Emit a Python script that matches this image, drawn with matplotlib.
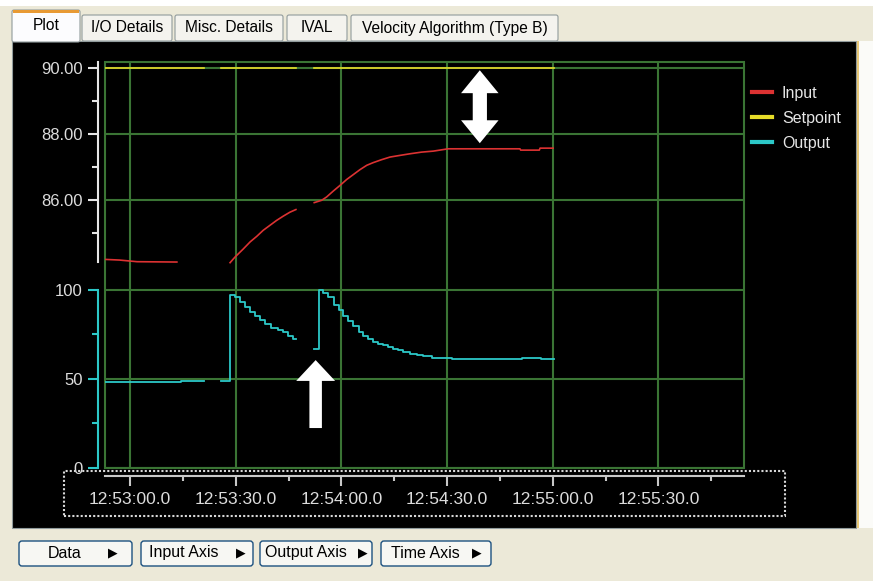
import numpy as np
import matplotlib
matplotlib.use("Agg")
import matplotlib.pyplot as plt
from matplotlib.patches import Rectangle, FancyBboxPatch
from matplotlib.transforms import IdentityTransform
from matplotlib.ticker import FixedLocator, FuncFormatter, MultipleLocator
from matplotlib.lines import Line2D

W, H = 873, 581
nan = np.nan

# ── data: seconds after 12:53:00 ─────────────────────────────────────────────
BASE_SEC = 12 * 3600 + 53 * 60

input_t = [-7.1, -3.0, 2.0, 13.3, nan,
           28.4, 29.8, 32.1, 34.1, 36.0, 37.8, 39.7, 41.6, 43.5, 45.4, 47.1, nan,
           52.3, 54.4, 55.8, 57.7, 59.6, 61.5, 63.4, 65.3, 67.2, 69.0, 71.4,
           73.8, 76.6, 79.5, 82.8, 86.1, 90.3, 110.7, 110.9, 116.2, 116.4, 120.1]
input_v = [84.21, 84.19, 84.14, 84.13, nan,
           84.11, 84.28, 84.52, 84.74, 84.91, 85.09, 85.24, 85.39, 85.52, 85.64, 85.72, nan,
           85.93, 86.00, 86.10, 86.28, 86.45, 86.63, 86.78, 86.93, 87.06, 87.14, 87.23,
           87.31, 87.36, 87.41, 87.46, 87.49, 87.56, 87.56, 87.52, 87.52, 87.58, 87.58]

setpoint_t = [-7.1, 21.0, nan, 25.7, 47.0, nan, 52.2, 120.3]
setpoint_v = [90.0, 90.0, nan, 90.0, 90.0, nan, 90.0, 90.0]

output_t = [-7.1, 14.5, 21.0, nan,
            25.7, 28.4, 29.8, 31.2, 32.6, 34.1, 35.5, 36.9, 38.3, 39.9, 42.0,
            43.3, 44.8, 46.3, 47.0, nan,
            52.3, 53.6, 54.8, 56.3, 58.0, 59.4, 60.5, 61.9, 63.4, 65.0, 66.2,
            67.6, 69.0, 70.5, 71.9, 73.3, 74.7, 76.2, 77.6, 79.5, 81.4, 83.3,
            85.6, 91.5, 111.2, 116.6, 120.3]
output_v = [48.2, 49.0, 49.0, nan,
            49.0, 97.2, 95.7, 92.9, 90.5, 87.7, 85.1, 82.7, 80.8, 78.4, 77.1,
            76.1, 73.9, 72.4, 72.4, nan,
            66.9, 99.8, 97.9, 95.7, 91.6, 88.3, 85.1, 82.3, 79.5, 76.1, 73.9,
            72.4, 70.9, 69.6, 68.7, 67.8, 66.9, 65.9, 65.0, 64.1, 63.5, 62.7,
            61.8, 60.9, 61.8, 60.9, 60.9]

time_range = (-7.1, 174.3)
input_range = (77.89, 90.19)
input_axis_span = (84.12, 90.19)
input_major = [86, 88, 90]
input_minor = [85, 87, 89]
output_range = (0, 227.6)
output_axis_span = (0, 100)
output_major = [0, 50, 100]
output_minor = [25, 75]

# annotation arrows (time, value)
double_arrow_t, double_arrow_lo, double_arrow_hi = 99.3, 87.73, 89.94
up_arrow_t, up_arrow_lo, up_arrow_hi = 52.7, 22.4, 60.5

series_names = ["Input", "Setpoint", "Output"]
tab_names = ["Plot", "I/O Details", "Misc. Details", "IVAL", "Velocity Algorithm (Type B)"]
button_names = ["Data", "Input Axis", "Output Axis", "Time Axis"]

# ── style ────────────────────────────────────────────────────────────────────
RED, YELLOW, CYAN = "#dc3232", "#e6dc28", "#2cc8c8"
GRID = "#3a7434"
AXW = "#e6e6e6"
BEIGE = "#ece9d8"
UI_FONT = ["Liberation Sans", "DejaVu Sans"]
PT = 0.72  # points per pixel at dpi 100

fig = plt.figure(figsize=(W / 100, H / 100), dpi=100, facecolor=BEIGE)
ID = IdentityTransform()


def box(x0, y0, x1, y1, **kw):
    kw.setdefault("zorder", -1)
    p = Rectangle((x0, H - y1), x1 - x0, y1 - y0, transform=ID, **kw)
    fig.patches.append(p)
    return p


def rbox(x0, y0, x1, y1, r=3, **kw):
    kw.setdefault("zorder", -1)
    p = FancyBboxPatch((x0, H - y1), x1 - x0, y1 - y0,
                       boxstyle=f"round,pad=0,rounding_size={r}", transform=ID, **kw)
    fig.patches.append(p)
    return p


def ftext(x, y, s, **kw):
    kw.setdefault("family", UI_FONT)
    kw.setdefault("ha", "center")
    kw.setdefault("va", "center")
    fig.text(x / W, 1 - y / H, s, **kw)


# window chrome
box(0, 0, W, 6, color="white", lw=0)
box(12, 41, 856, 528, facecolor="black", edgecolor="#919b9c", lw=0.8)
box(857, 41, 859, 528, color="#e8c878", lw=0)
box(859, 41, W, 528, color="#fbfbf8", lw=0)

# tabs
tab_x = [(12, 80), (82, 172), (175, 283), (287, 347), (351, 558)]
for i, (name, (x0, x1)) in enumerate(zip(tab_names, tab_x)):
    if i == 0:
        rbox(x0, 10, x1, 42, r=2, facecolor="#fcfcfe", edgecolor="#919b9c", lw=0.8)
        box(x0 + 1, 10, x1 - 1, 13, color="#e89a34", lw=0)
        ftext((x0 + x1) / 2, 25, name, fontsize=11.2, color="black")
    else:
        rbox(x0, 15, x1, 41, r=2, facecolor="#f4f3ee", edgecolor="#919b9c", lw=0.8)
        ftext((x0 + x1) / 2, 28, name, fontsize=11.2, color="black")

# buttons
btn_x = [(19, 132), (141, 253), (260, 372), (381, 491)]
btn_text_x = [65, 184, 306, 425]
btn_arrow_x = [113, 241, 363, 477]
for name, (x0, x1), tx, axx in zip(button_names, btn_x, btn_text_x, btn_arrow_x):
    rbox(x0, 541, x1, 566, r=3, facecolor="#f7f7f3", edgecolor="#1c5180", lw=1.0)
    ftext(tx, 553, name, fontsize=11.5, color="black")
    ftext(axx, 553, "\u25B6", fontsize=9, color="black", family=["DejaVu Sans"])

# ── plot area ────────────────────────────────────────────────────────────────
ax = fig.add_axes([105 / W, 1 - 468 / H, 639 / W, 406 / H])
ax.set_facecolor("black")
ax.set_xlim(*time_range)
ax.set_ylim(*input_range)

ax2 = ax.twinx()
ax2.set_ylim(*output_range)
ax2.patch.set_visible(False)

# frame
ax.add_patch(Rectangle((0, 0), 1, 1, transform=ax.transAxes, fill=False,
                       edgecolor=GRID, lw=1.5, clip_on=False, zorder=1.5))

for s in ["top", "right"]:
    ax.spines[s].set_visible(False)
for s in ["top", "right", "bottom"]:
    ax2.spines[s].set_visible(False)

ax.spines["left"].set_position(("outward", 7 * PT))
ax.spines["left"].set_bounds(*input_axis_span)
ax.spines["left"].set_color(AXW)
ax.spines["left"].set_linewidth(1.5)
ax.spines["bottom"].set_position(("outward", 7.7 * PT))
ax.spines["bottom"].set_color("#c8c8c8")
ax.spines["bottom"].set_linewidth(1.5)

ax2.spines["left"].set_visible(True)
ax2.spines["left"].set_position(("outward", 7 * PT))
ax2.spines["left"].set_bounds(*output_axis_span)
ax2.spines["left"].set_color(CYAN)
ax2.spines["left"].set_linewidth(1.5)
ax2.yaxis.set_ticks_position("left")
ax2.yaxis.set_label_position("left")


def fmt_time(s, pos):
    total = BASE_SEC + s
    h = int(total // 3600)
    m = int((total % 3600) // 60)
    sec = total - h * 3600 - m * 60
    return f"{h}:{m:02d}:{sec:04.1f}"


ax.xaxis.set_major_locator(MultipleLocator(30))
ax.xaxis.set_minor_locator(MultipleLocator(15))
ax.xaxis.set_major_formatter(FuncFormatter(fmt_time))
ax.tick_params(axis="x", which="major", length=10 * PT, width=1.5, color="#c8c8c8",
               labelcolor="#dcdcdc", labelsize=12.5, pad=6 * PT)
ax.tick_params(axis="x", which="minor", length=5 * PT, width=1.5, color="#c8c8c8")

ax.yaxis.set_major_locator(FixedLocator(input_major))
ax.yaxis.set_minor_locator(FixedLocator(input_minor))
ax.yaxis.set_major_formatter(FuncFormatter(lambda v, p: f"{v:.2f}"))
ax.tick_params(axis="y", which="major", length=10 * PT, width=1.5, color=AXW,
               labelcolor="#dcdcdc", labelsize=12, pad=5 * PT)
ax.tick_params(axis="y", which="minor", length=6 * PT, width=1.5, color=AXW)

ax2.yaxis.set_major_locator(FixedLocator(output_major))
ax2.yaxis.set_minor_locator(FixedLocator(output_minor))
ax2.tick_params(axis="y", which="major", length=10 * PT, width=1.5, color=CYAN,
                labelcolor="#dcdcdc", labelsize=12, pad=5 * PT, left=True, right=False,
                labelleft=True, labelright=False)
ax2.tick_params(axis="y", which="minor", length=6 * PT, width=1.5, color=CYAN,
                left=True, right=False)
for lab in ax.get_xticklabels() + ax.get_yticklabels() + ax2.get_yticklabels():
    lab.set_family(UI_FONT)

ax.grid(True, which="major", color=GRID, lw=1.5)
ax2.grid(True, axis="y", which="major", color=GRID, lw=1.5)
ax.set_axisbelow(True)
ax2.set_axisbelow(True)

# series
ax.plot(setpoint_t, setpoint_v, color=YELLOW, lw=1.2, zorder=3)
ax.plot(input_t, input_v, color=RED, lw=1.2, zorder=3)
ax2.plot(output_t, output_v, color=CYAN, lw=1.3, drawstyle="steps-post", zorder=3)

# annotation arrows: the two halves overlap in the middle so no seam shows
arrow_kw = dict(fc="white", ec="none", shrinkA=0, shrinkB=0, mutation_scale=10)
span = double_arrow_hi - double_arrow_lo
for end, start in ((double_arrow_hi, double_arrow_lo + 0.3 * span),
                   (double_arrow_lo, double_arrow_hi - 0.3 * span)):
    ax.annotate("", xy=(double_arrow_t, end), xytext=(double_arrow_t, start),
                arrowprops=dict(arrowstyle="simple,head_length=1.65,head_width=2.7,tail_width=1.0",
                                **arrow_kw), zorder=5)
ax2.annotate("", xy=(up_arrow_t, up_arrow_hi), xytext=(up_arrow_t, up_arrow_lo),
             arrowprops=dict(arrowstyle="simple,head_length=1.5,head_width=2.8,tail_width=0.9",
                             **arrow_kw), zorder=5)

# legend
handles = [Line2D([], [], color=c, lw=3) for c in (RED, YELLOW, CYAN)]
leg = fig.legend(handles, series_names, loc="upper left",
                 bbox_to_anchor=(752 / W, 1 - 86 / H), frameon=False,
                 borderpad=0, borderaxespad=0, handlelength=1.25,
                 handletextpad=0.62, labelspacing=0.62,
                 prop={"family": UI_FONT, "size": 11.5})
for t in leg.get_texts():
    t.set_color("#e6e6e6")

# dotted focus box around the time axis
box(64, 471, 785, 516, fill=False, edgecolor="#d8d8d8", lw=1.5,
    linestyle=(0, (1, 1)), zorder=5)

fig.savefig("out.png", dpi=100, facecolor=BEIGE)
